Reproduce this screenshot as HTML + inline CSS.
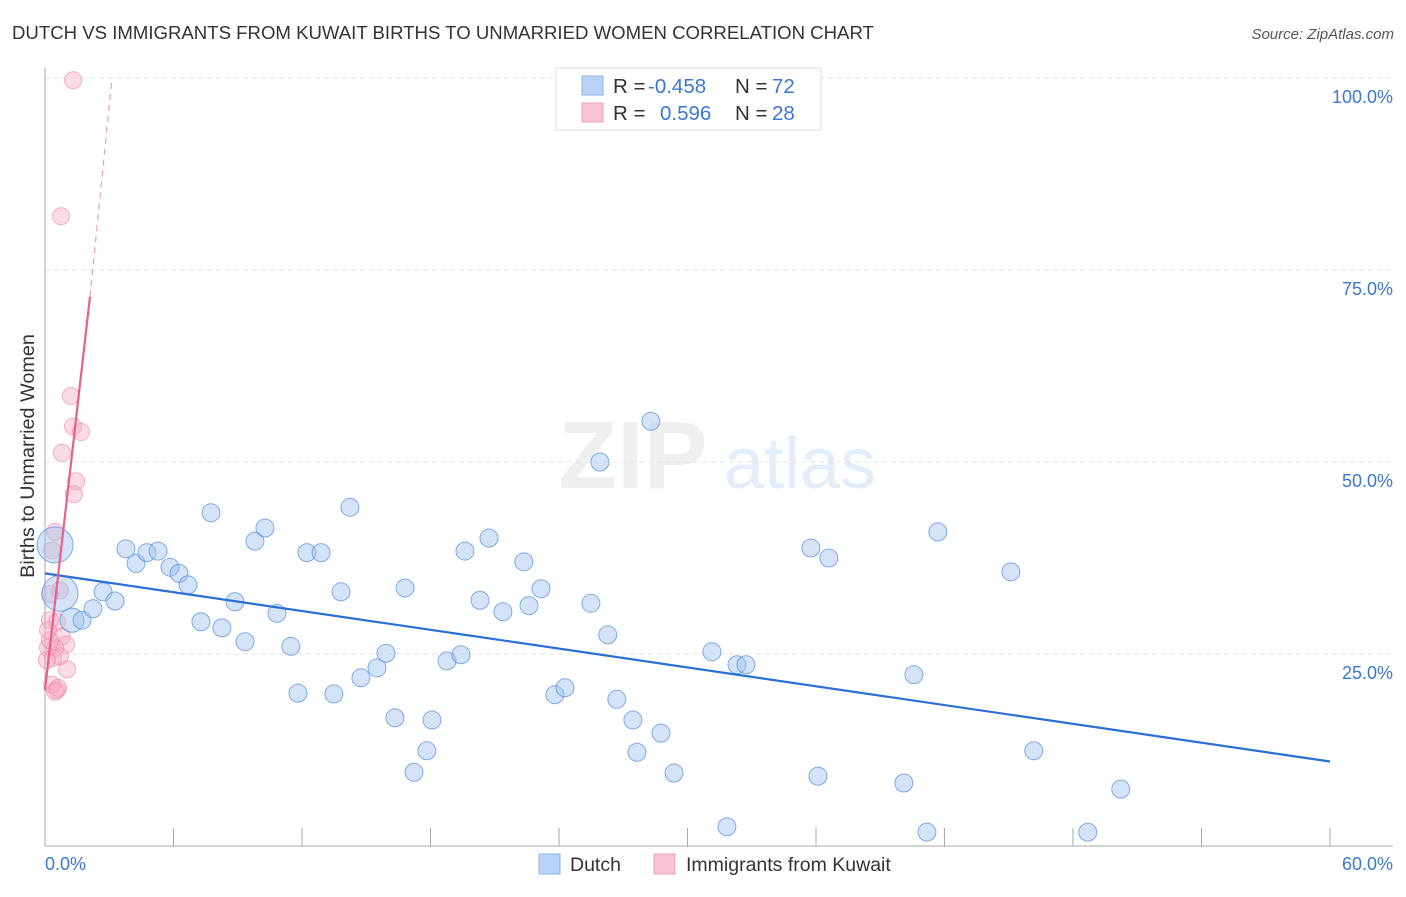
<!DOCTYPE html>
<html><head><meta charset="utf-8"><style>
body{margin:0;background:#fff;font-family:"Liberation Sans",sans-serif}
svg text{font-family:"Liberation Sans",sans-serif}
</style></head><body>
<svg id="chart" width="1406" height="892" xmlns="http://www.w3.org/2000/svg">
<text x="12" y="39" font-size="18.6" fill="#333">DUTCH VS IMMIGRANTS FROM KUWAIT BIRTHS TO UNMARRIED WOMEN CORRELATION CHART</text>
<text x="1394" y="39" font-size="15" fill="#555" font-style="italic" text-anchor="end">Source: ZipAtlas.com</text>
<text transform="translate(34,456) rotate(-90)" font-size="19.8" fill="#333" text-anchor="middle">Births to Unmarried Women</text>
<g opacity="0.3">
<text x="633" y="488" font-size="96" fill="#ccc" text-anchor="middle" font-family="Liberation Serif" font-weight="bold">ZIP</text>
<text x="800" y="488" font-size="72" fill="#a9c4ec" text-anchor="middle">atlas</text>
</g>
<g id="grid"></g><g id="axes"></g><g id="pink"></g><g id="blue"></g><g id="trends"></g>
<g>
<rect x="556" y="68" width="265" height="62" fill="#fff" stroke="#ddd"/>
<rect x="582" y="76" width="21" height="19" fill="#b8d3f5" stroke="#8ab3e8"/>
<rect x="582" y="103" width="21" height="19" fill="#f9c5d5" stroke="#efa0b8"/>
<text x="613" y="93" font-size="20.5" fill="#333">R = <tspan x="648" fill="#3a78d4">-0.458</tspan><tspan x="735">N = </tspan><tspan x="772" fill="#3a78d4">72</tspan></text>
<text x="613" y="120" font-size="20.5" fill="#333">R = <tspan x="660" fill="#3a78d4">0.596</tspan><tspan x="735">N = </tspan><tspan x="772" fill="#3a78d4">28</tspan></text>
</g>
<g>
<rect x="539" y="854" width="21" height="20" fill="#b8d3f5" stroke="#8ab3e8"/>
<text x="570" y="871" font-size="19.5" fill="#333">Dutch</text>
<rect x="654" y="854" width="21" height="20" fill="#f9c5d5" stroke="#efa0b8"/>
<text x="686" y="871" font-size="19.5" fill="#333">Immigrants from Kuwait</text>
</g>
</svg>
<script>
const xTickLabels=["0.0%","60.0%"];
const yTicks=[25,50,75,100];
const yTickLabels=["25.0%","50.0%","75.0%","100.0%"];
const dutchX=[0.47,0.7,1.26,1.73,2.24,2.71,3.27,3.78,4.25,4.76,5.28,5.84,6.26,6.68,7.28,7.75,8.26,8.87,9.34,9.8,10.27,10.83,11.48,11.81,12.23,12.89,13.49,13.82,14.24,14.75,15.5,15.92,16.34,16.81,17.23,17.83,18.07,18.77,19.42,19.61,20.31,20.73,21.38,22.36,22.6,23.16,23.81,24.28,25.49,25.91,26.28,26.7,27.45,27.64,28.29,28.76,29.37,31.14,31.84,32.31,32.73,35.76,36.09,36.6,40.1,40.57,41.18,41.69,45.1,46.17,48.69,50.23];
const dutchY=[39.2,32.9,29.4,29.4,30.9,33.1,31.9,38.7,36.8,38.2,38.4,36.3,35.5,34.0,29.2,43.4,28.4,31.8,26.6,39.7,41.4,30.3,26.0,19.9,38.2,38.2,19.8,33.1,44.1,21.9,23.2,25.1,16.7,33.6,9.6,12.4,16.4,24.1,24.9,38.4,32.0,40.1,30.5,37.0,31.3,33.5,19.7,20.6,31.6,50.0,27.5,19.1,16.4,12.2,55.3,14.7,9.5,25.3,2.5,23.6,23.6,38.8,9.1,37.5,8.2,22.3,1.8,40.9,35.7,12.4,1.8,7.4];
const dutchW=[4,4,1.8,1,1,1,1,1,1,1,1,1,1,1,1,1,1,1,1,1,1,1,1,1,1,1,1,1,1,1,1,1,1,1,1,1,1,1,1,1,1,1,1,1,1,1,1,1,1,1,1,1,1,1,1,1,1,1,1,1,1,1,1,1,1,1,1,1,1,1,1,1];
const kuwaitX=[1.31,0.75,1.21,1.31,1.68,0.79,1.45,1.35,0.47,0.33,0.7,0.23,0.56,0.23,0.79,0.98,0.47,0.14,0.7,0.37,1.03,0.33,0.56,0.47,0.23,0.14,0.61,0.09];
const kuwaitY=[99.7,82.0,58.6,54.6,53.9,51.2,47.5,45.8,40.9,38.5,33.3,32.8,29.2,29.4,27.3,26.2,25.8,25.8,24.7,24.5,23.0,21.0,20.3,20.1,26.8,28.1,20.6,24.2];
const dutchTrend=[35.5,11.0];
const kuwaitTrend=[20.3,71.5,100];
const kuwaitTrendX=[0,2.1,3.13];

const NS="http://www.w3.org/2000/svg";
const X=v=>45+v*(1285/60);
const Y=v=>846-v*7.68;
function mk(tag,attrs,parent){const e=document.createElementNS(NS,tag);for(const k in attrs)e.setAttribute(k,attrs[k]);parent.appendChild(e);return e;}
const grid=document.getElementById('grid'),axes=document.getElementById('axes');
yTicks.forEach((t,i)=>{
 const l=mk('line',{x1:45,x2:1393,y1:Y(t),y2:Y(t),stroke:'#e4e4e4','stroke-dasharray':'5,4'},grid);
 
 
 const tx=mk('text',{x:1393,y:Y(t)+25,'font-size':18,fill:'#3a78d4','text-anchor':'end'},grid);
 tx.textContent=yTickLabels[i];
 
 
});
let a=mk('line',{x1:45,x2:45,y1:68,y2:846,stroke:'#aaa'},axes);


a=mk('line',{x1:45,x2:1393,y1:846,y2:846,stroke:'#aaa'},axes);


for(let i=0;i<=10;i++){
 const t=mk('line',{x1:X(i*6),x2:X(i*6),y1:828,y2:846,stroke:'#aaa'},axes);
 
 
}
[[0,'start',45],[60,'end',1393]].forEach((d,i)=>{
 const t=mk('text',{x:d[2],y:870,'font-size':18,fill:'#3a78d4','text-anchor':d[1]},axes);
 t.textContent=xTickLabels[i];
 
 
});
const pg=document.getElementById('pink');
kuwaitX.forEach((x,i)=>{
 const c=mk('circle',{cx:X(x),cy:Y(kuwaitY[i]),r:8.5,fill:'rgba(246,168,192,0.4)',stroke:'rgba(236,130,162,0.6)','stroke-width':1},pg);
 
 
});
const bg=document.getElementById('blue');
dutchX.forEach((x,i)=>{
 const c=mk('circle',{cx:X(x),cy:Y(dutchY[i]),r:9*Math.sqrt(dutchW[i]),fill:'rgba(160,194,238,0.45)',stroke:'rgba(80,140,220,0.7)','stroke-width':1},bg);
 
 
});
const tg=document.getElementById('trends');
let l=mk('line',{x1:X(0),y1:Y(dutchTrend[0]),x2:X(60),y2:Y(dutchTrend[1]),stroke:'#2a6fd6','stroke-width':2.2},tg);


l=mk('line',{x1:X(kuwaitTrendX[0]),y1:Y(kuwaitTrend[0]),x2:X(kuwaitTrendX[1]),y2:Y(kuwaitTrend[1]),stroke:'#e8608c','stroke-width':2.2},tg);


l=mk('line',{x1:X(kuwaitTrendX[1]),y1:Y(kuwaitTrend[1]),x2:X(kuwaitTrendX[2]),y2:Y(kuwaitTrend[2]),stroke:'#eaa0b8','stroke-width':1.2,'stroke-dasharray':'6,5'},tg);


</script>
</body></html>
